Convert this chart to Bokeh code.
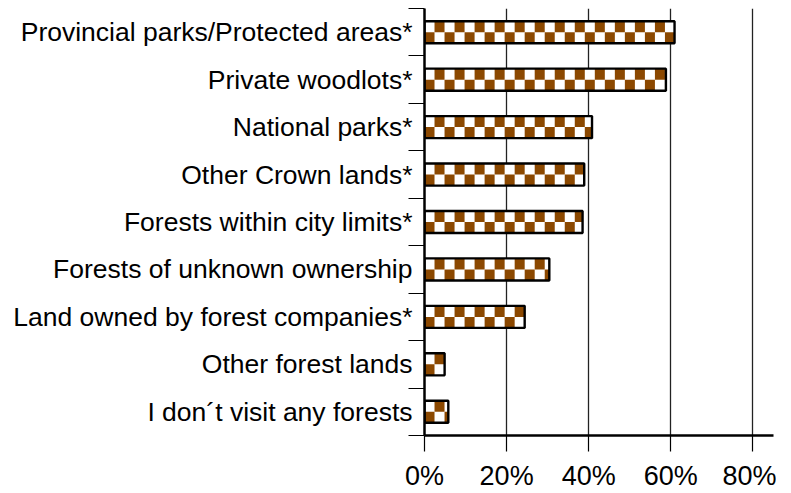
from bokeh.plotting import figure
from bokeh.models import ColumnDataSource, Range1d, FixedTicker, PrintfTickFormatter
from bokeh.embed import file_html
from bokeh.resources import INLINE

categories = [
    "Provincial parks/Protected areas*",
    "Private woodlots*",
    "National parks*",
    "Other Crown lands*",
    "Forests within city limits*",
    "Forests of unknown ownership",
    "Land owned by forest companies*",
    "Other forest lands",
    "I don\u00b4t visit any forests",
]
values = [60.9, 58.8, 40.8, 38.9, 38.5, 30.4, 24.4, 4.9, 5.8]
x_ticks = [0, 20, 40, 60, 80]

n = len(categories)
centers = [n - i - 0.5 for i in range(n)]
boundaries = list(range(0, n + 1))
bar_h = 0.465

brown = "#8B4800"
cell = 2.44  # checker cell width in axis units

# checker cells built from the values
ql, qr, qt, qb = [], [], [], []
for yc, v in zip(centers, values):
    k = 0
    while k * cell < v:
        left = k * cell
        right = min((k + 1) * cell, v)
        if k % 2 == 0:
            top, bottom = yc, yc - bar_h / 2
        else:
            top, bottom = yc + bar_h / 2, yc
        ql.append(left); qr.append(right); qt.append(top); qb.append(bottom)
        k += 1

source = ColumnDataSource(dict(cat=categories, val=values, y=centers))
cells = ColumnDataSource(dict(left=ql, right=qr, top=qt, bottom=qb))

p = figure(width=776, height=493, output_backend="svg", toolbar_location=None,
           x_range=Range1d(0, 85), y_range=Range1d(0, n),
           min_border_left=424, min_border_right=3, min_border_top=8,
           min_border_bottom=53)
p.outline_line_color = None

p.hbar(y="y", right="val", left=0, height=bar_h, source=source,
       fill_color="white", line_color=None)
p.quad(left="left", right="right", top="top", bottom="bottom", source=cells,
       fill_color=brown, line_color=None)
p.hbar(y="y", right="val", left=0, height=bar_h, source=source,
       fill_color=None, line_color="black", line_width=2.4)

# x axis
xa = p.xaxis[0]
xa.ticker = FixedTicker(ticks=x_ticks)
xa.formatter = PrintfTickFormatter(format="%d%%")
xa.axis_line_width = 2.5
xa.axis_line_color = "black"
xa.major_tick_out = 16
xa.major_tick_in = 0
xa.major_tick_line_width = 1.2
xa.major_tick_line_color = "black"
xa.minor_tick_line_color = None
xa.major_label_text_font = "Liberation Sans"
xa.major_label_text_font_size = "27px"
xa.major_label_text_color = "black"
xa.major_label_standoff = 9

# y axis: labels at centers, ticks at category boundaries
ya = p.yaxis[0]
ya.ticker = FixedTicker(ticks=centers, minor_ticks=boundaries)
ya.major_label_overrides = {c: lab for c, lab in zip(centers, categories)}
ya.axis_line_width = 2.5
ya.axis_line_color = "black"
ya.major_tick_line_color = None
ya.major_tick_out = 0
ya.major_tick_in = 0
ya.minor_tick_out = 16
ya.minor_tick_in = 0
ya.minor_tick_line_color = "black"
ya.minor_tick_line_width = 1.2
ya.major_label_text_font = "Liberation Sans"
ya.major_label_text_font_size = "26.5px"
ya.major_label_text_color = "black"
ya.major_label_standoff = -4

p.xgrid.ticker = FixedTicker(ticks=x_ticks[1:])
p.xgrid.grid_line_color = "#222222"
p.xgrid.grid_line_width = 1.3
p.ygrid.grid_line_color = None

open("out.html", "w").write(file_html(p, INLINE))
